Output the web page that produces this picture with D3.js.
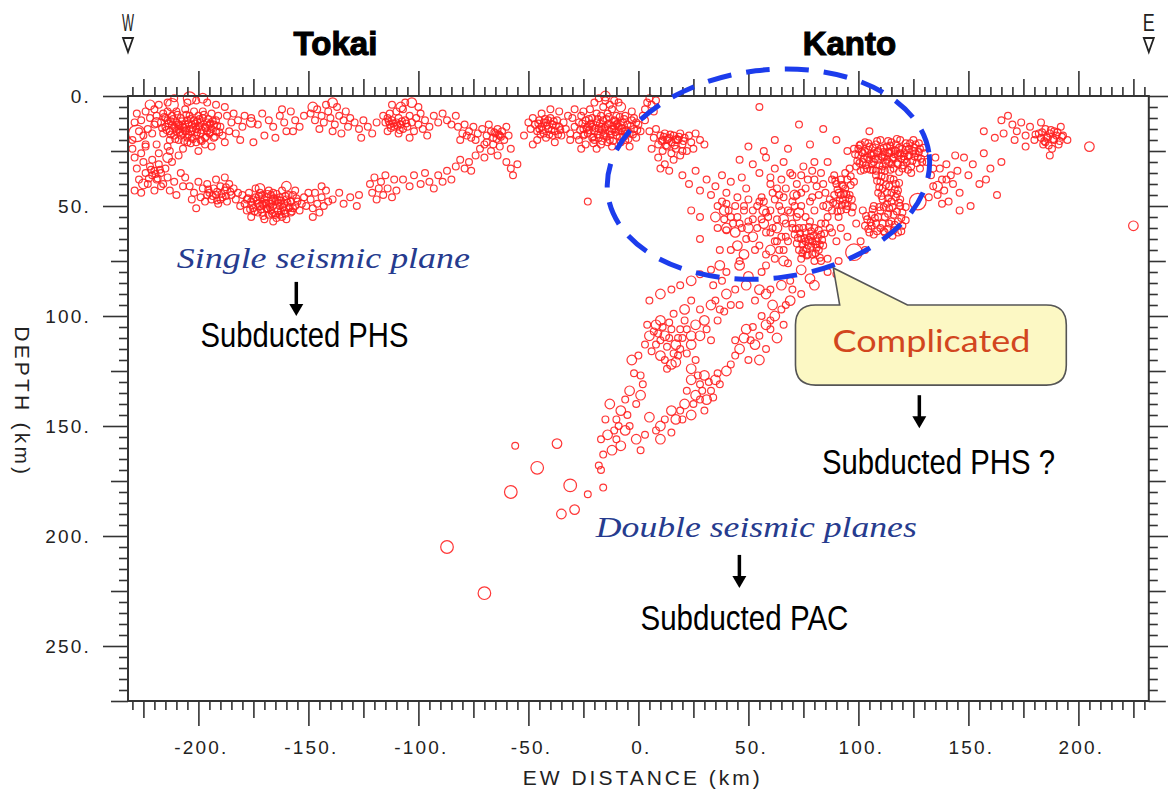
<!DOCTYPE html>
<html><head><meta charset="utf-8">
<script src="https://cdn.jsdelivr.net/npm/d3@7"></script>
<style>body{margin:0;background:#fff}svg{display:block}</style>
</head><body><svg id="chart" width="1168" height="789"></svg>
<script>
// ---------------- data (x = EW distance km, depth km, size class) ----------------
const xDomain = [-232, 232];
const yDomain = [0, 275];
const xTickLabels = [-200, -150, -100, -50, 0, 50, 100, 150, 200];
const yTickLabels = [0, 50, 100, 150, 200, 250];

const tokaiUpper = [
[-216,8],[-214,11],[-212,9],[-210,12],[-208,10],[-206,13],[-204,9],[-202,11],[-200,14],[-198,10],[-196,12],[-194,15],[-192,11],
[-215,14],[-213,16],[-211,18],[-209,15],[-207,17],[-205,19],[-203,16],[-201,18],[-199,17],[-197,19],[-195,17],[-193,19],
[-210,7],[-206,6],[-202,7],[-198,7],[-194,8],[-191,9],[-217,12],[-211,14],[-207,14],[-203,13],[-199,12],[-195,13],
[-209,20],[-205,21],[-201,21],[-197,22],[-213,20],[-216,17],[-190,14],[-189,18],[-212,13],[-204,15],[-200,9],[-196,16],[-208,18],
[-214,7],[-205,11],[-201,15],[-197,14],[-193,13],[-209,13],[-203,19],[-199,20],[-206,16],[-192,16],[-210,16],[-215,10],
[-228,8],[-226,11],[-224,7],[-222,10],[-220,13],[-223,15],[-225,18],[-220,6],[-218,4],[-219,9],[-221,17],[-229,12],[-227,16],
[-230,20],[-224,22],[-219,22],[-214,23],[-207,24],[-200,25],[-194,23],[-188,21],[-186,16],[-185,12],[-187,9],[-184,8],
[-182,11],[-180,14],[-183,17],[-181,20],[-179,9],[-188,5],[-192,4],[-196,3],[-201,2],[-205,3],[-214,3],[-211,1],
[-212,4,3],[-204,1,3],[-198,1,2],[-228,17,4],[-176,12,2],[-219,12,2],[-222,4,2],
[-176,10],[-173,13],[-171,8],[-168,11],[-166,14],[-163,9],[-161,12],[-158,7],[-156,11],[-154,14],[-152,9],[-170,18],
[-165,19],[-160,16],[-175,21],[-162,6],[-157,16],
[-149,8],[-147,11],[-146,6],[-144,9],[-143,12],[-141,7],[-140,10],[-138,13],[-137,5],[-136,9],[-134,11],[-133,7],
[-132,14],[-131,10],[-145,15],[-139,16],[-142,4],[-135,17],[-148,5,2],[-139,3,2],
[-129,12],[-127,15],[-125,11],[-123,14],[-121,17],[-119,12],[-126,19],
[-116,9],[-115,12],[-114,10],[-113,13],[-112,11],[-111,14],[-110,12],[-109,10],[-108,13],[-107,15],[-106,11],[-105,14],
[-113,8],[-110,7],[-107,6],[-104,9],[-103,12],[-102,16],[-101,10],[-100,13],[-99,8],[-98,15],[-97,11],[-96,18],
[-104,19],[-109,17],[-114,16],[-112,4],[-106,3],[-100,5],[-95,14],[-108,5,2],[-103,3,2],
[-93,9],[-91,12],[-89,8],[-87,11],[-85,13],[-83,9],
[-82,14],[-80,17],[-79,13],[-78,18],[-77,16],[-76,19],[-75,14],[-74,20],[-73,17],[-81,20],
[-71,15],[-69,18],[-68,13],[-67,16],[-66,19],[-65,17],[-64,15],[-63,18],[-62,16],[-61,20],[-66,22],[-63,23],
[-60,14],[-59,18],[-58,24],[-67,25],[-64,27],[-70,22]
];

const tokaiLower = [
[-230,24],[-229,28],[-228,33],[-227,38],[-226,26],[-225,30],[-224,35],[-223,40],[-222,32],[-221,36],[-220,34],[-219,38],
[-218,31],[-217,35],[-216,40],[-215,33],[-214,37],[-213,43],[-212,30],[-211,39],[-210,45],[-209,27],[-208,35],[-207,41],
[-206,37],[-229,43],[-226,44],[-220,43],[-224,23],[-218,26],[-213,25],[-225,40,2],[-214,28,2],[-221,29],[-217,41],
[-204,41],[-202,44],[-200,39],[-199,46],[-198,42],[-197,48],[-196,40],[-195,44],[-194,47],[-193,42],[-192,45],[-191,49],
[-190,41],[-189,46],[-188,43],[-187,48],[-186,40],[-185,45],[-184,42],[-183,47],[-182,44],[-181,50],[-203,47],[-201,51],
[-192,38],[-188,37],[-196,45],[-190,47],
[-180,45],[-179,49],[-178,52],[-177,44],[-176,48],[-175,51],[-174,46],[-173,53],[-172,44],[-171,49],[-170,47],[-169,51],
[-168,54],[-167,45],[-166,50],[-165,48],[-164,52],[-163,46],[-162,55],[-161,49],[-160,47],[-159,51],[-158,53],[-157,45],
[-156,50],[-155,48],[-154,52],[-152,46],[-151,50],[-150,44],[-176,55],[-170,56],[-166,57],[-160,56],[-174,42],[-168,43],
[-162,43],[-156,43],[-172,50],[-167,49],[-163,50],[-158,48],[-178,47],[-165,54],[-171,53],[-169,46],[-161,52],[-175,47],
[-153,49],[-173,49],[-169,49],[-164,47],[-159,45],[-166,44],[-171,45],[-157,51],[-163,54],[-167,52],
[-165,52,3],[-172,42,2],[-160,41,2],
[-149,47],[-148,51],[-147,44],[-146,49],[-145,53],[-144,46],[-143,50],[-142,43],[-141,48],[-148,55],[-144,41],
[-139,47],[-136,44],[-134,49],[-131,46],[-128,50],[-127,45],
[-122,40],[-121,44],[-120,37],[-119,47],[-118,42],[-117,39],[-116,45],[-115,36],[-114,42],[-112,46],[-111,38],[-110,43],
[-107,38],[-104,41],[-102,36],[-99,40],[-97,35],[-95,39],[-93,42],[-91,36],[-89,39],[-87,34],[-85,38],
[-83,32],[-81,29],[-79,33],[-77,30],[-76,34],
[-74,27],[-72,24],[-70,28],[-69,21],
[-60,30],[-58,33],[-55,31],[-57,36],[-23,48]
];

const centralUpper = [
[-50,12],[-49,15],[-48,10],[-47,13],[-46,16],[-45,11],[-44,14],[-43,17],[-42,12],[-41,15],[-40,10],[-39,13],[-38,16],
[-37,11],[-36,14],[-35,18],[-34,12],[-33,15],[-32,9],[-31,17],[-44,8],[-40,6],[-36,7],[-42,19],[-46,20],[-38,21],[-52,18],
[-48,22],[-43,12],[-39,18],[-45,15],[-41,11],
[-30,10],[-29,14],[-28,18],[-27,12],[-26,9],[-25,15],[-24,11],[-23,17],[-22,13],[-21,10],[-20,16],[-19,12],[-18,19],
[-17,14],[-16,11],[-15,17],[-14,13],[-13,20],[-12,15],[-11,11],[-10,18],[-9,14],[-8,12],[-7,16],[-6,20],[-5,13],[-4,17],
[-3,11],[-2,15],[-1,19],[0,13],[1,16],[-27,20],[-24,22],[-21,19],[-17,22],[-12,23],[-8,21],[-4,23],[-25,7],[-22,6],[-19,8],
[-16,5],[-14,8],[-12,6],[-10,9],[-6,9],[-3,7],[-20,3],[-18,1],[-15,2],[-13,4],[-11,2],[-9,3],[-29,6],[-31,20],[-26,24],
[-19,24],[-23,14],[-15,14],[-9,16],[-5,17],[-11,15],[-18,15],[-2,10],[-21,14],[-16,18],[-13,16],[-7,12],[-20,20],[-10,13],
[-25,18],[-14,21],[-1,12],[-6,16],[-17,9],[-15,0,2],[-8,5,2],
[2,9],[3,6],[4,3],[5,1],[6,4],[7,7],[3,11],[8,2],
[5,16],[7,19],[8,15],[9,22],[10,18],[11,20],[12,17],[13,23],[14,19],[15,21],[16,18],[17,24],[18,20],[19,17],[20,22],
[21,19],[22,25],[23,18],[24,21],[26,17],[28,20],[30,22],[11,25],[15,26],[19,27],[9,28],[12,31],[14,34],[16,29],[10,33],
[25,24],[6,24],[13,20],[17,20],[20,25]
];

const kantoCrust = [
[20,36],[23,40],[26,34],[28,43],[31,38],[33,45],[35,41],[38,36],[40,44],[42,39],[45,46],[47,37],[49,42],[28,55],[36,50],
[55,5],[73,13],[84,15],[105,16],[50,23],[57,25],[46,29],[62,20],[66,30],[60,37],[68,24],[78,22],[90,20],[95,25],[80,30],
[52,31],[55,35],[58,28],[60,40],[62,33],[64,45],[65,38],[67,42],[69,35],[70,48],[72,40],[74,44],[75,32],[77,38],[79,46],
[81,41],[83,35],[85,44],[86,30],[88,38],[62,47],[64,50],[66,46],[68,52],[61,44],[63,42],[56,46],[54,50],[58,53],[52,56],
[50,47],[48,52],[46,58],[44,50],[42,55],[40,49],[24,52],[28,65],[37,70],[42,70],[46,75],[53,70],[58,77],[49,65],[40,61],
[38,48],[41,52],[43,58],[45,55],[47,60],[50,57],[52,52],[54,60],[56,56],[58,62],[60,52],[39,56],[36,60],[48,50],[55,48],
[57,48],[59,55],[61,60],[63,56],[65,64],[67,58],[69,53],[71,50],[68,66],[64,70],
[70,36],[72,45],[74,50],[76,42],[78,48],[80,52],[82,45],[84,50],[86,55],[84,40],[87,47],[76,55],[72,55],[80,38],[83,58],
[87,60],[74,36],[79,34],[65,52],[70,60],[67,64],[62,66],[63,60,2],[57,58,2],[71,45,2],[52,64,2],[44,62,2],[86,50,2],
[39,52,2],[50,60,2],[57,52,2],[66,56,2],[73,53,2],[60,70,2],[35,55,2],[48,72,2],
[89,36],[90,40],[91,44],[92,38],[93,47],[94,42],[95,50],[96,45],[97,53],[98,39],[90,49],[92,52],[94,35],[96,33],[91,55],
[89,45],[93,41],[95,38],[97,47],[88,52],[92,45],[94,49],
[98,24],[100,27],[101,22],[102,30],[103,25],[104,28],[105,23],[106,31],[107,26],[108,22],[109,29],[110,24],[111,32],
[112,27],[113,23],[114,30],[115,25],[116,28],[117,22],[118,31],[119,26],[120,24],[121,29],[122,23],[123,27],[124,32],
[125,25],[126,22],[127,28],[128,24],[129,30],[130,26],[99,32],[101,34],[104,33],[108,34],[112,34],[116,33],[120,33],
[124,35],[103,21],[110,20],[115,21],[119,20],[125,20],[106,27],[113,29],[118,27],[122,30],[128,33],[102,26],[105,29],
[109,25],[111,28],[114,26],[117,25],[121,26],[126,26],[100,24],[107,30],[115,31],[123,24],
[108,36],[110,39],[112,37],[114,41],[116,38],[118,43],[109,44],[111,47],[113,44],[115,48],[117,46],[119,50],[107,50],
[110,52],[112,55],[114,51],[116,54],[118,57],[120,53],[102,52],[104,56],[106,54],[108,58],[110,60],[112,62],[114,58],
[116,61],[118,62],[103,59],[105,62],[107,63],[120,59],[115,44],[111,42],[117,40],[113,49],[109,55],[115,57],[111,58],
[106,59],[119,47],
[131,30],[133,36],[134,41],[135,28],[136,45],[137,33],[138,38],[139,43],[140,31],[141,48],[142,36],[143,40],[144,27],
[145,34],[146,44],[132,46],[138,49],[134,33],[140,38],
[148,28],[150,36],[152,31],[155,40],[157,26],[160,33],[163,45],[165,30],[151,50],[146,52],[158,38],[157,16],[162,19],
[127,48,4],[98,71,4],[136,41,2],
[165,11],[168,9],[170,13],[172,16],[174,12],[176,18],[178,14],[180,20],[182,17],[184,22],[185,15],[186,19],[188,24],
[190,18],[191,22],[192,14],[187,27],[183,12],[176,23],[171,20],[166,17],[195,20],[183,19],[185,21],[187,17],[189,20],
[189,16],[193,18],[205,23,2],[225,59,2]
];

const kantoDeep = [
[70,58],[71,63],[72,67],[73,60],[74,65],[75,70],[76,62],[77,68],[78,64],[79,72],[80,60],[81,66],[82,70],[83,63],[84,68],
[85,58],[86,74],[74,74],[78,57],[80,75],[76,66],[82,61],[73,70],[77,72],[79,66],[75,60],[81,69],
[60,62],[63,66],[66,70],[68,76],[58,72],[55,68],[62,74],[88,62],[90,66],[92,60],[95,64],[99,58],[101,66],[103,70],
[86,80],[91,75],[66,75,2],[45,68,2],[40,60,2]
];

// extra events filling the densest swarms
const denseSwarms = [
[-215.5,9.5],[-213.5,12.5],[-211.5,10.5],[-209.5,8.5],[-207.5,11.5],[-205.5,8.5],[-203.5,10.5],[-201.5,12.5],[-199.5,10.5],
[-197.5,8.5],[-195.5,10.5],[-193.5,11.5],[-191.5,13.5],[-214.5,15.5],[-212.5,17.5],[-210.5,14.5],[-208.5,16.5],[-206.5,14.5],
[-204.5,17.5],[-202.5,14.5],[-200.5,16.5],[-198.5,15.5],[-196.5,18.5],[-194.5,16.5],[-192.5,18.5],[-210.5,19.5],[-206.5,20.5],
[-202.5,19.5],[-198.5,20.5],[-204.5,12.5],[-208.5,13.5],[-200.5,11.5],[-196.5,14.5],[-212.5,11.5],[-194.5,12.5],[-190.5,16.5],
[-216.5,14.5],[-205.5,15.5],[-203.5,21.5],[-199.5,13.5],
[-177.5,46.5],[-175.5,49.5],[-173.5,47.5],[-171.5,51.5],[-169.5,48.5],[-167.5,50.5],[-165.5,46.5],[-163.5,48.5],[-161.5,50.5],
[-159.5,48.5],[-157.5,52.5],[-155.5,46.5],[-174.5,52.5],[-170.5,54.5],[-166.5,53.5],[-162.5,52.5],[-158.5,50.5],[-172.5,45.5],
[-168.5,44.5],[-164.5,44.5],[-160.5,45.5],[-176.5,51.5],[-168.5,51.5],[-164.5,55.5],[-160.5,53.5],[-170.5,49.5],[-166.5,47.5],
[-162.5,47.5],
[-195.5,42.5],[-193.5,45.5],[-191.5,43.5],[-189.5,44.5],[-187.5,45.5],[-185.5,43.5],[-191.5,47.5],[-187.5,41.5],
[-221.5,33.5],[-219.5,35.5],[-217.5,33.5],[-222.5,37.5],[-218.5,37.5],
[-25.5,12.5],[-23.5,14.5],[-21.5,12.5],[-19.5,14.5],[-17.5,12.5],[-15.5,14.5],[-13.5,12.5],[-11.5,13.5],[-9.5,12.5],[-7.5,14.5],
[-5.5,15.5],[-3.5,13.5],[-24.5,17.5],[-22.5,15.5],[-20.5,18.5],[-18.5,17.5],[-16.5,15.5],[-14.5,18.5],[-12.5,17.5],[-10.5,16.5],
[-8.5,18.5],[-6.5,18.5],[-4.5,19.5],[-2.5,17.5],[-22.5,10.5],[-18.5,10.5],[-14.5,10.5],[-10.5,11.5],[-6.5,10.5],[-20.5,21.5],
[-16.5,20.5],[-11.5,20.5],[-26.5,15.5],[-0.5,15.5],[-13.5,9.5],[-8.5,9.5],
[-45.5,12.5],[-43.5,15.5],[-41.5,13.5],[-39.5,15.5],[-37.5,13.5],[-35.5,15.5],[-44.5,17.5],[-40.5,17.5],[-36.5,17.5],
[-42.5,10.5],[-38.5,11.5],
[10.5,20.5],[12.5,22.5],[14.5,17.5],[16.5,22.5],[18.5,18.5],[20.5,20.5],[13.5,19.5],[17.5,19.5],[11.5,18.5],
[-113.5,11.5],[-111.5,12.5],[-109.5,13.5],[-107.5,11.5],[-105.5,12.5],[-112.5,14.5],[-108.5,15.5],
[-65.5,16.5],[-63.5,17.5],[-64.5,19.5],[-62.5,18.5],
[98.5,26.5],[99.5,29.5],[100.5,22.5],[101.5,25.5],[102.5,28.5],[103.5,31.5],[104.5,24.5],[105.5,26.5],[106.5,23.5],
[107.5,28.5],[108.5,25.5],[109.5,31.5],[110.5,27.5],[111.5,23.5],[112.5,30.5],[113.5,25.5],[114.5,22.5],[115.5,28.5],
[116.5,24.5],[117.5,30.5],[118.5,23.5],[119.5,28.5],[120.5,31.5],[121.5,24.5],[122.5,27.5],[123.5,21.5],[124.5,29.5],
[125.5,23.5],[126.5,30.5],[127.5,25.5],[128.5,28.5],[129.5,23.5],[102.5,33.5],[106.5,33.5],[110.5,33.5],[114.5,33.5],
[118.5,34.5],[122.5,33.5],[104.5,21.5],[108.5,20.5],[113.5,20.5],[117.5,19.5],[121.5,21.5],[127.5,21.5],[100.5,30.5],
[111.5,25.5],[116.5,26.5],[120.5,27.5],[125.5,27.5],[105.5,33.5],
[108.5,38.5],[110.5,36.5],[112.5,40.5],[114.5,37.5],[116.5,42.5],[118.5,39.5],[109.5,41.5],[113.5,46.5],[117.5,44.5],
[110.5,45.5],[115.5,50.5],[111.5,50.5],[117.5,52.5],[119.5,55.5],[113.5,53.5],[109.5,50.5],[107.5,55.5],[105.5,57.5],
[103.5,54.5],[113.5,60.5],[116.5,58.5],[111.5,61.5],[108.5,61.5],[119.5,61.5],[115.5,63.5],[104.5,60.5],[106.5,51.5],
[118.5,48.5],[121.5,56.5],[121.5,50.5],
[89.5,38.5],[90.5,42.5],[91.5,47.5],[92.5,40.5],[93.5,44.5],[94.5,51.5],[95.5,46.5],[96.5,40.5],[97.5,50.5],[90.5,52.5],
[92.5,49.5],[88.5,48.5],[96.5,36.5],[94.5,44.5],
[73.5,62.5],[74.5,67.5],[75.5,64.5],[76.5,69.5],[77.5,65.5],[78.5,68.5],[79.5,63.5],[80.5,67.5],[81.5,64.5],[82.5,67.5],
[83.5,65.5],[74.5,71.5],[76.5,72.5],[78.5,61.5],[80.5,71.5],[82.5,73.5],[72.5,64.5],[84.5,62.5],[71.5,60.5],[77.5,59.5],
[183.5,16.5],[185.5,18.5],[186.5,22.5],[188.5,19.5],[190.5,16.5],[191.5,20.5],[184.5,20.5],[187.5,15.5],[192.5,18.5],[180.5,17.5]
];

const pacSlab = [
[74,79,2],[69,84],[65,86,2],[60,88],[55,88,2],[83,75],[90,81],[80,86,2],
[49,86,2],[44,88],[40,90,2],[35,93],[33,95,2],[28,97],[24,93],[30,102,2],[37,97],[53,93],[58,90,2],[46,95],[42,95],
[26,104,2],[19,106],[28,109,2],[33,111],[24,113,2],
[8,104,2],[10,111],[12,109,2],[15,106],[17,113,2],[19,115],[10,118,2],[12,120],[15,122,2],[8,113],[5,109,2],[21,102],
[24,109,2],[3,113],[10,102,2],[13,114],[16,117],[7,107],[11,105],[18,110],[14,103],
[-3,120,2],[1,127],[-4,134,2],[-6,138],[-8,143,2],[-10,147],[1,136,2],
[-13,140,2],[-15,147],[-14,154,2],[-10,156],[-6,152,2],[-4,150],[-1,156,2],[1,161],[-8,159,2],[-17,156],[-12,161,2],[-5,145],
[24,129,2],[28,131],[30,127,2],[33,134],[35,129,2],[37,131],[26,136,2],[28,138],[21,140,2],[19,143],[24,145,2],[30,143],
[40,125,2],[42,122],[24,124,2],[26,120],
[49,106,2],[51,111],[53,113,2],[55,109],[46,115,2],[44,118],[58,104,2],[60,102],[62,100,2],[65,97],[67,95],[69,93,2],
[74,90],[55,120,2],[50,120],[60,106],[63,110,2],[66,104],[58,115],
[15,143,2],[12,147],[10,150,2],[8,152],[17,147,2],[15,153],[5,146,2],[3,154],[10,156,2],
[5,93],[10,90,2],[15,88],[19,86],[24,84,2],[28,81],[33,79],[37,77,2],[46,77,2],[40,80],
[20,110],[22,106],[14,110],[9,108],[6,116],[18,118],[22,117],[13,124],[17,121,2],[4,104],[0,118],[-2,126],[2,131],
[-1,140],[-9,150],[-11,152],[29,134],[31,138,2],[27,127],[32,130],[34,137],[22,134],[25,140],[20,147],[36,126],[44,111],
[48,110,2],[52,105],[56,100],[61,95,2],[70,88],[78,83,2],[36,102],[39,98],[31,106],[21,97,2],[16,99],[34,86],[38,84],
[50,82,2],[56,80],
[-16,163],[-17,170],[-56,159],[-46,169,3],[-37,158,2],[-58,180,3],[-31,177,3],[-29,188,2],[-35,190,2],[-18,168],
[-23,181],[-16,178],[-87,205,3],[-70,226,3]
];

// ---------------- chart ----------------
const svg = d3.select("#chart");
const plotLeft = 128, plotTop = 96, kmPx = 2.2;
const x = d3.scaleLinear().domain(xDomain).range([plotLeft, plotLeft + (xDomain[1]-xDomain[0])*kmPx]);
const y = d3.scaleLinear().domain(yDomain).range([plotTop, plotTop + (yDomain[1]-yDomain[0])*kmPx]);
const rScale = d3.scaleOrdinal().domain([1,2,3,4]).range([3.4, 4.8, 6.3, 8.3]);
const axisColor = "#333";

// points
const quakes = [].concat(tokaiUpper, tokaiLower, centralUpper, kantoCrust, kantoDeep, denseSwarms, pacSlab);
svg.append("g").selectAll("circle").data(quakes).join("circle")
  .attr("cx", d => x(d[0])).attr("cy", d => y(d[1]))
  .attr("r", d => rScale(d[2] || 1))
  .attr("fill", "none").attr("stroke", "#ff2020").attr("stroke-width", 1.2).attr("stroke-opacity", 0.9);

// ticks via d3 axes
const xMinor = d3.range(-230, 231, 5).filter(v => v % 25 !== 0);
const xMed = d3.range(-225, 226, 50);
const xMaj = d3.range(-200, 201, 50);
const yMinor = d3.range(5, 275, 5).filter(v => v % 25 !== 0);
const yMed = d3.range(25, 276, 50);
const yMaj = d3.range(0, 251, 50);
const lens = [9, 17, 25];
function drawAxis(gen, scale, sets, transform) {
  sets.forEach((vals, i) => {
    const g = svg.append("g").attr("transform", transform)
      .call(gen(scale).tickValues(vals).tickSize(lens[i]).tickFormat(""));
    g.select(".domain").remove();
    g.selectAll("line").attr("stroke", axisColor).attr("stroke-width", 1.6);
  });
}
const xr = x.range(), yr = y.range();
drawAxis(d3.axisTop, x, [xMinor, xMed, xMaj], `translate(0,${yr[0]})`);
drawAxis(d3.axisBottom, x, [xMinor, xMed, xMaj], `translate(0,${yr[1]})`);
drawAxis(d3.axisLeft, y, [yMinor, yMed, yMaj], `translate(${xr[0]},0)`);
drawAxis(d3.axisRight, y, [yMinor, yMed, yMaj], `translate(${xr[1]},0)`);

// frame
svg.append("rect").attr("x", xr[0]).attr("y", yr[0]).attr("width", xr[1]-xr[0]).attr("height", yr[1]-yr[0])
  .attr("fill", "none").attr("stroke", axisColor).attr("stroke-width", 2);

// tick labels
const tickFont = "'Liberation Sans', Arial, sans-serif";
svg.append("g").selectAll("text").data(xTickLabels).join("text")
  .attr("x", d => x(d)).attr("dx", 3).attr("y", yr[1] + 53)
  .attr("text-anchor", "middle").attr("font-family", tickFont).attr("font-size", 19)
  .attr("letter-spacing", 2.2).attr("fill", "#222").text(d => d + ".");
svg.append("g").selectAll("text").data(yTickLabels).join("text")
  .attr("x", 91).attr("y", d => y(d) + 7)
  .attr("text-anchor", "end").attr("font-family", tickFont).attr("font-size", 19)
  .attr("letter-spacing", 2.2).attr("fill", "#222").text(d => d + ".");

// axis titles
svg.append("text").attr("x", x(2)).attr("y", 785).attr("text-anchor", "middle")
  .attr("font-family", tickFont).attr("font-size", 21).attr("letter-spacing", 3).attr("fill", "#222")
  .text("EW DISTANCE (km)");
svg.append("text").attr("transform", `translate(15,${y(139)}) rotate(90)`).attr("text-anchor", "middle")
  .attr("font-family", tickFont).attr("font-size", 21).attr("letter-spacing", 3.2).attr("fill", "#222")
  .text("DEPTH (km)");

// W / E markers
[[xDomain[0], "W"], [xDomain[1], "E"]].forEach(([v, t]) => {
  const cx = x(v);
  svg.append("text").attr("x", cx).attr("y", 31).attr("text-anchor", "middle")
    .attr("font-family", tickFont).attr("font-size", 24).attr("textLength", 12).attr("lengthAdjust", "spacingAndGlyphs")
    .attr("fill", "#222").text(t);
  svg.append("path").attr("d", `M${cx-5},38 L${cx+5},38 L${cx},52 Z`).attr("fill", "none")
    .attr("stroke", "#222").attr("stroke-width", 1.8);
});

// region titles
const regions = [[-137.7, "Tokai"], [95.9, "Kanto"]];
svg.append("g").selectAll("text").data(regions).join("text")
  .attr("x", d => x(d[0])).attr("y", y(-18.6)).attr("text-anchor", "middle")
  .attr("font-family", "'Liberation Sans', Arial, sans-serif").attr("font-weight", "bold")
  .attr("font-size", 33).attr("fill", "#000").attr("stroke", "#000").attr("stroke-width", 1.1).text(d => d[1]);

// dashed ellipse (km coords)
const ell = {cx: 59.1, cy: 35.5, rx: 73.6, ry: 47.3, rot: -7};
svg.append("ellipse").attr("cx", 0).attr("cy", 0).attr("rx", ell.rx*kmPx).attr("ry", ell.ry*kmPx)
  .attr("transform", `translate(${x(ell.cx)},${y(ell.cy)}) rotate(${ell.rot})`)
  .attr("fill", "none").attr("stroke", "#1c3cec").attr("stroke-width", 5).attr("stroke-dasharray", "24 15");

// callout bubble
const bub = {x0: 71.4, x1: 194.5, y0: 95, y1: 131.4, tipX: 88.6, tipY: 78.2, baseL: 91.5, baseR: 122.3};
{
  const X0 = x(bub.x0), X1 = x(bub.x1), Y0 = y(bub.y0), Y1 = y(bub.y1), r = 20;
  const p = d3.path();
  p.moveTo(X0 + r, Y0);
  p.lineTo(x(bub.baseL), Y0);
  p.lineTo(x(bub.tipX), y(bub.tipY));
  p.lineTo(x(bub.baseR), Y0);
  p.lineTo(X1 - r, Y0);
  p.quadraticCurveTo(X1, Y0, X1, Y0 + r);
  p.lineTo(X1, Y1 - r);
  p.quadraticCurveTo(X1, Y1, X1 - r, Y1);
  p.lineTo(X0 + r, Y1);
  p.quadraticCurveTo(X0, Y1, X0, Y1 - r);
  p.lineTo(X0, Y0 + r);
  p.quadraticCurveTo(X0, Y0, X0 + r, Y0);
  p.closePath();
  svg.append("path").attr("d", p.toString()).attr("fill", "#fcf8c4").attr("stroke", "#555").attr("stroke-width", 1.6);
  svg.append("text").attr("x", x(133.2)).attr("y", y(116.2)).attr("text-anchor", "middle")
    .attr("font-family", "'Comic Sans MS', 'Lato', sans-serif").attr("font-size", 31)
    .attr("textLength", 198).attr("lengthAdjust", "spacingAndGlyphs")
    .attr("fill", "#d2461e").text("Complicated");
}

// annotation texts
const notes = [
  {x: -143.2, y: 78.2, t: "Single seismic plane", kind: "italic", w: 293},
  {x: -151.8, y: 114, t: "Subducted PHS", kind: "plain", w: 208},
  {x: 136.4, y: 171.8, t: "Subducted PHS ?", kind: "plain", w: 233},
  {x: 53.6, y: 200.5, t: "Double seismic planes", kind: "italic", w: 321},
  {x: 48.2, y: 242.7, t: "Subducted PAC", kind: "plain", w: 208}
];
svg.append("g").selectAll("text").data(notes).join("text")
  .attr("x", d => x(d.x)).attr("y", d => y(d.y)).attr("text-anchor", "middle")
  .attr("font-family", d => d.kind === "italic" ? "'Liberation Serif', 'Times New Roman', serif" : "'Liberation Sans', Arial, sans-serif")
  .attr("font-style", d => d.kind === "italic" ? "italic" : "normal")
  .attr("font-size", d => d.kind === "italic" ? 29 : 35)
  .attr("textLength", d => d.w).attr("lengthAdjust", "spacingAndGlyphs")
  .attr("fill", d => d.kind === "italic" ? "#263b8e" : "#000").text(d => d.t);

// down arrows
const arrows = [[-155.5, 84.5, 100], [127.7, 136, 151], [45.9, 208.6, 223.6]];
arrows.forEach(([ax, d0, d1]) => {
  const X = x(ax), Ya = y(d0), Yb = y(d1);
  svg.append("line").attr("x1", X).attr("x2", X).attr("y1", Ya).attr("y2", Yb - 10)
    .attr("stroke", "#000").attr("stroke-width", 3.5);
  svg.append("path").attr("d", `M${X-7},${Yb-12} L${X+7},${Yb-12} L${X},${Yb} Z`).attr("fill", "#000");
});
</script></body></html>
